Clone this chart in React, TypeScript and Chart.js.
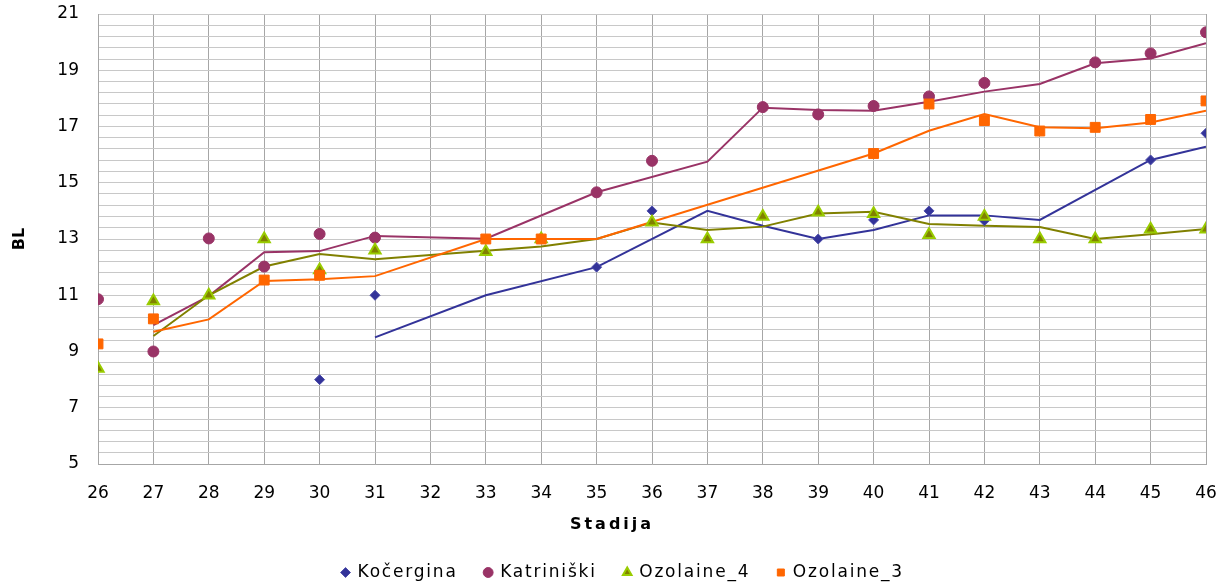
import React, { useEffect, useRef } from 'react';
import { Chart, registerables } from 'chart.js';

Chart.register(...registerables);

const seriesNames = ['Kočergina', 'Katriniški', 'Ozolaine_4', 'Ozolaine_3'];
const xTitle = 'Stadija';
const yTitle = 'BL';

const xMin = 26;
const xMax = 46;
const yMin = 5;
const yMax = 21;
const yGridStep = 0.4;
const yTickLabels = [5, 7, 9, 11, 13, 15, 17, 19, 21];

// Kočergina
const kocerginaX = [30, 31, 35, 36, 39, 40, 41, 42, 45, 46];
const kocerginaY = [8.0, 11.0, 12.0, 14.0, 13.0, 13.68, 14.0, 13.65, 15.81, 16.76];
const kocerginaTrendX = [31, 33, 35, 37, 38, 39, 40, 41, 42, 43, 45, 46];
const kocerginaTrendY = [9.5, 11.0, 12.0, 14.0, 13.47, 13.0, 13.32, 13.84, 13.84, 13.68, 15.81, 16.28];

// Katriniški
const katriniskiX = [26, 27, 28, 29, 30, 31, 35, 36, 38, 39, 40, 41, 42, 44, 45, 46];
const katriniskiY = [10.86, 9.0, 13.02, 12.02, 13.18, 13.05, 14.66, 15.78, 17.69, 17.43, 17.73, 18.07, 18.55, 19.28, 19.6, 20.35];
const katriniskiTrendX = [27, 28, 29, 30, 31, 33, 35, 37, 38, 39, 40, 41, 42, 43, 44, 45, 46];
const katriniskiTrendY = [9.94, 10.97, 12.53, 12.57, 13.11, 13.01, 14.66, 15.75, 17.67, 17.59, 17.56, 17.88, 18.24, 18.51, 19.25, 19.42, 19.96];

// Ozolaine_4
const ozolaine4X = [26, 27, 28, 29, 30, 31, 33, 34, 36, 37, 38, 39, 40, 41, 42, 43, 44, 45, 46];
const ozolaine4Y = [8.4, 10.8, 11.0, 13.0, 11.9, 12.6, 12.55, 13.0, 13.6, 13.0, 13.8, 13.95, 13.9, 13.15, 13.8, 13.0, 13.0, 13.35, 13.35];
const ozolaine4TrendX = [27, 28, 29, 30, 31, 33, 34, 35, 36, 37, 38, 39, 40, 41, 42, 43, 44, 45, 46];
const ozolaine4TrendY = [9.55, 11.0, 12.02, 12.47, 12.28, 12.58, 12.73, 13.0, 13.59, 13.32, 13.44, 13.91, 13.97, 13.53, 13.47, 13.43, 13.0, 13.17, 13.36];

// Ozolaine_3
const ozolaine3X = [26, 27, 29, 30, 33, 34, 40, 41, 42, 43, 44, 45, 46];
const ozolaine3Y = [9.27, 10.16, 11.54, 11.71, 13.0, 13.0, 16.04, 17.8, 17.21, 16.84, 16.97, 17.25, 17.91];
const ozolaine3TrendX = [27, 28, 29, 30, 31, 33, 34, 35, 40, 41, 42, 43, 44, 45, 46];
const ozolaine3TrendY = [9.7, 10.14, 11.51, 11.57, 11.68, 13.0, 13.0, 13.0, 16.04, 16.85, 17.44, 16.97, 16.94, 17.14, 17.56];

const pts = (xs: number[], ys: number[]) => xs.map((x, i) => ({ x, y: ys[i] }));

const FONT = "'DejaVu Sans', Verdana, sans-serif";
const PLOT_BOTTOM = 464;
const LEGEND_H = 46;
const LEGEND_SHIFT_X = 20;
const LEGEND_LETTER_SPACING = '1.8px';

const legendTweak = {
  id: 'legendTweak',
  beforeUpdate(chart: any) {
    const lg = chart.legend;
    if (lg && !lg.__patched) {
      const origFit = lg.fit.bind(lg);
      const origDraw = lg.draw.bind(lg);
      lg.fit = function () {
        const ctx = chart.ctx;
        ctx.save();
        ctx.letterSpacing = LEGEND_LETTER_SPACING;
        origFit();
        ctx.restore();
        this.height = LEGEND_H;
      };
      lg.draw = function () {
        const ctx = chart.ctx;
        ctx.save();
        ctx.translate(LEGEND_SHIFT_X, 0);
        ctx.letterSpacing = LEGEND_LETTER_SPACING;
        origDraw();
        ctx.restore();
      };
      lg.__patched = true;
    }
  },
};

const xTitlePlugin = {
  id: 'xTitlePlugin',
  afterDraw(chart: any) {
    const ctx = chart.ctx;
    ctx.save();
    ctx.letterSpacing = '3px';
    ctx.font = `bold 16px ${FONT}`;
    ctx.fillStyle = '#000';
    ctx.textAlign = 'center';
    ctx.textBaseline = 'middle';
    ctx.fillText(xTitle, chart.width / 2 - 3, 525);
    ctx.restore();
  },
};

export default function App() {
  const ref = useRef<HTMLCanvasElement | null>(null);

  useEffect(() => {
    if (!ref.current) return;
    const chart = new Chart(ref.current, {
      type: 'scatter',
      plugins: [legendTweak, xTitlePlugin],
      data: {
        datasets: [
          {
            label: seriesNames[0],
            data: pts(kocerginaX, kocerginaY),
            pointStyle: 'rectRot',
            pointRadius: 5,
            backgroundColor: '#333399',
            borderColor: '#4d4daa',
            borderWidth: 1,
            showLine: false,
            order: 4,
          },
          {
            label: seriesNames[1],
            data: pts(katriniskiX, katriniskiY),
            pointStyle: 'circle',
            pointRadius: 5.5,
            backgroundColor: '#993366',
            borderColor: '#993366',
            borderWidth: 1,
            showLine: false,
            order: 3,
          },
          {
            label: seriesNames[2],
            data: pts(ozolaine4X, ozolaine4Y),
            pointStyle: 'triangle',
            pointRadius: 6.5,
            backgroundColor: '#808000',
            borderColor: '#99cc00',
            borderWidth: 2,
            showLine: false,
            order: 2,
          },
          {
            label: seriesNames[3],
            data: pts(ozolaine3X, ozolaine3Y),
            pointStyle: 'rect',
            pointRadius: 7,
            backgroundColor: '#ff6600',
            borderColor: '#ff6600',
            borderWidth: 1,
            showLine: false,
            order: 1,
          },
          {
            label: 'trend0',
            data: pts(kocerginaTrendX, kocerginaTrendY),
            showLine: true,
            pointRadius: 0,
            borderColor: '#333399',
            borderWidth: 2,
            order: 8,
          },
          {
            label: 'trend1',
            data: pts(katriniskiTrendX, katriniskiTrendY),
            showLine: true,
            pointRadius: 0,
            borderColor: '#993366',
            borderWidth: 2,
            order: 7,
          },
          {
            label: 'trend2',
            data: pts(ozolaine4TrendX, ozolaine4TrendY),
            showLine: true,
            pointRadius: 0,
            borderColor: '#808000',
            borderWidth: 2,
            order: 6,
          },
          {
            label: 'trend3',
            data: pts(ozolaine3TrendX, ozolaine3TrendY),
            showLine: true,
            pointRadius: 0,
            borderColor: '#ff6600',
            borderWidth: 2,
            order: 5,
          },
        ],
      },
      options: {
        responsive: false,
        animation: false,
        layout: { padding: { left: 0, right: 24, top: 14, bottom: 0 } },
        plugins: {
          tooltip: { enabled: false },
          legend: {
            position: 'bottom',
            labels: {
              usePointStyle: true,
              boxHeight: 7,
              boxWidth: 7,
              padding: 27,
              color: '#000',
              font: { family: FONT, size: 17 },
              filter: (item: any) => item.datasetIndex < 4,
              sort: (a: any, b: any) => a.datasetIndex - b.datasetIndex,
            },
          },
        },
        scales: {
          x: {
            type: 'linear',
            min: xMin,
            max: xMax,
            ticks: {
              stepSize: 1,
              color: '#000',
              font: { family: FONT, size: 17 },
              padding: 19,
              maxRotation: 0,
              autoSkip: false,
            },
            grid: { color: '#a6a6a6', drawTicks: false, lineWidth: 1 },
            border: { color: '#a6a6a6' },
            title: { display: false },
            afterFit: (scale: any) => {
              const lh = scale.chart.legend ? scale.chart.legend.height : LEGEND_H;
              scale.height = scale.chart.height - PLOT_BOTTOM - lh;
              scale.paddingLeft = 0;
              scale.paddingRight = 0;
            },
          },
          y: {
            type: 'linear',
            min: yMin,
            max: yMax,
            afterBuildTicks: (scale: any) => {
              const n = Math.round((yMax - yMin) / yGridStep);
              const t = [];
              for (let i = 0; i <= n; i++) t.push({ value: yMin + i * yGridStep });
              scale.ticks = t;
            },
            ticks: {
              autoSkip: false,
              color: '#000',
              font: { family: FONT, size: 17 },
              padding: 19,
              callback: (v: any) => {
                const hit = yTickLabels.find((l) => Math.abs(l - Number(v)) < 1e-6);
                return hit !== undefined ? String(hit) : '';
              },
            },
            grid: { color: '#c8c8c8', drawTicks: false, lineWidth: 1 },
            border: { color: '#a6a6a6' },
            title: {
              display: true,
              text: yTitle,
              color: '#000',
              font: { family: FONT, size: 16, weight: 'bold' },
              padding: { top: 10, bottom: 0 },
            },
            afterFit: (scale: any) => {
              scale.width = 98;
              scale.paddingTop = 0;
              scale.paddingBottom = 0;
            },
          },
        },
      },
    });
    return () => chart.destroy();
  }, []);

  return (
    <div style={{ position: 'fixed', left: 0, top: 0, width: 1230, height: 583, background: '#fff' }}>
      <canvas ref={ref} width={1230} height={583} style={{ width: 1230, height: 583, display: 'block' }} />
    </div>
  );
}
